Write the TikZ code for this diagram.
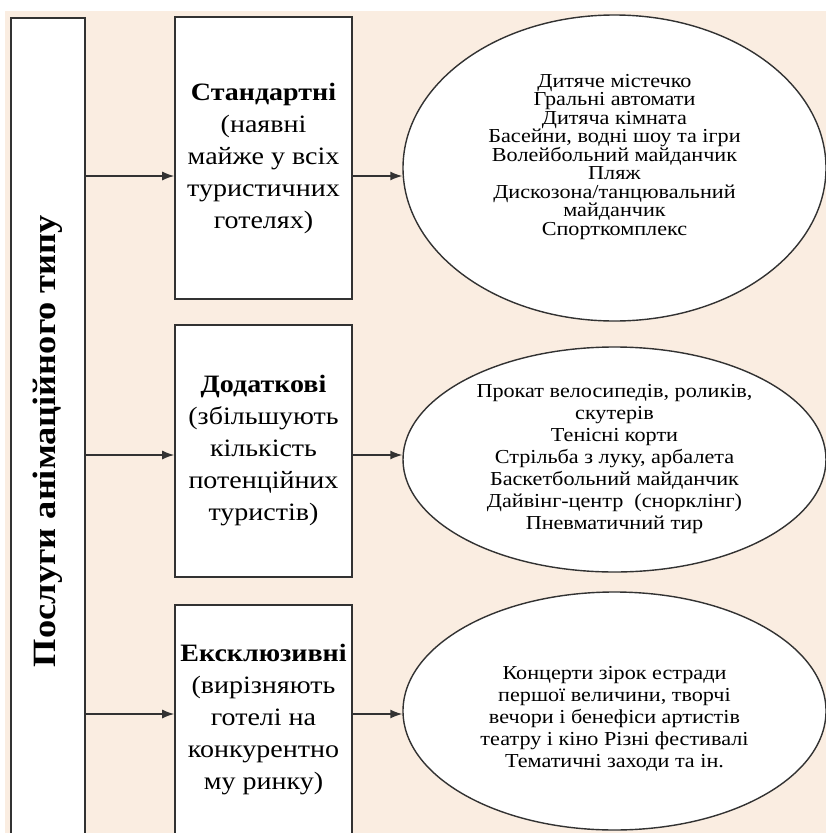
\documentclass[tikz,border=0pt]{standalone}
\usepackage{fontspec}
\setmainfont{Liberation Serif}[FakeStretch=1.12]
\usetikzlibrary{shapes.geometric,arrows.meta}
\definecolor{bgbeige}{RGB}{250,237,225}
\definecolor{linegray}{RGB}{50,50,50}
\tikzset{
  kindbox/.style={draw=linegray,line width=1.6pt,fill=white,minimum width=177pt,inner sep=0pt,align=center,font=\fontsize{25}{32}\selectfont},
  listoval/.style={ellipse,draw=linegray,line width=1.4pt,fill=white,minimum width=423pt,inner sep=0pt,align=center},
  feed/.style={draw=linegray,line width=1.4pt,-{Latex[length=12pt,width=9pt]}}
}
\begin{document}
\begin{tikzpicture}[x=1pt,y=-1pt]
    \useasboundingbox (0,0) rectangle (826,833);
    \clip (0,0) rectangle (826,833);
    \fill[bgbeige] (5,11) rectangle (826,833);
    % left column
    \node[kindbox,minimum width=74pt,minimum height=846pt] (lbl) at (48,441)
      {\rotatebox{90}{\fontsize{32.5}{38}\selectfont\bfseries Послуги анімаційного типу}};
    % kinds
    \node[kindbox,minimum height=282pt] (std) at (263.5,158)
      {\textbf{Стандартні}\\(наявні\\майже у всіх\\туристичних\\готелях)};
    \node[kindbox,minimum height=252pt] (add) at (263.5,451)
      {\textbf{Додаткові}\\(збільшують\\кількість\\потенційних\\туристів)};
    \node[kindbox,minimum height=250pt] (exc) at (263.5,730)
      {\textbf{Ексклюзивні}\\(вирізняють\\готелі на\\конкурентно\\му ринку)\\[-6pt]\mbox{}};
    % lists
    \node[listoval,minimum height=306pt,font=\fontsize{19.8}{18.5}\selectfont] (ell1) at (614.5,168)
      {Дитяче містечко\\Гральні автомати\\Дитяча кімната\\Басейни, водні шоу та ігри\\Волейбольний майданчик\\Пляж\\Дискозона/танцювальний\\майданчик\\Спорткомплекс\\[8pt]\mbox{}};
    \node[listoval,minimum height=225pt,font=\fontsize{19.8}{22}\selectfont] (ell2) at (614.5,459.5)
      {Прокат велосипедів, роликів,\\скутерів\\Тенісні корти\\Стрільба з луку, арбалета\\Баскетбольний майданчик\\Дайвінг-центр\ \ (снорклінг)\\Пневматичний тир};
    \node[listoval,minimum height=238pt,font=\fontsize{19.8}{22}\selectfont] (ell3) at (614.5,711)
      {\mbox{}\\[6pt]Концерти зірок естради\\першої величини, творчі\\вечори і бенефіси артистів\\театру і кіно Різні фестивалі\\Тематичні заходи та ін.};
    \coordinate (r1) at (0,176);
    \coordinate (r2) at (0,455);
    \coordinate (r3) at (0,714);
    \draw[feed] (lbl.east |- r1) -- (std.west |- r1);
    \draw[feed] (lbl.east |- r2) -- (add.west |- r2);
    \draw[feed] (lbl.east |- r3) -- (exc.west |- r3);
    \draw[feed] (std.east |- r1) -- (ell1.west |- r1);
    \draw[feed] (add.east |- r2) -- (ell2.west |- r2);
    \draw[feed] (exc.east |- r3) -- (ell3.west |- r3);
\end{tikzpicture}
\end{document}
